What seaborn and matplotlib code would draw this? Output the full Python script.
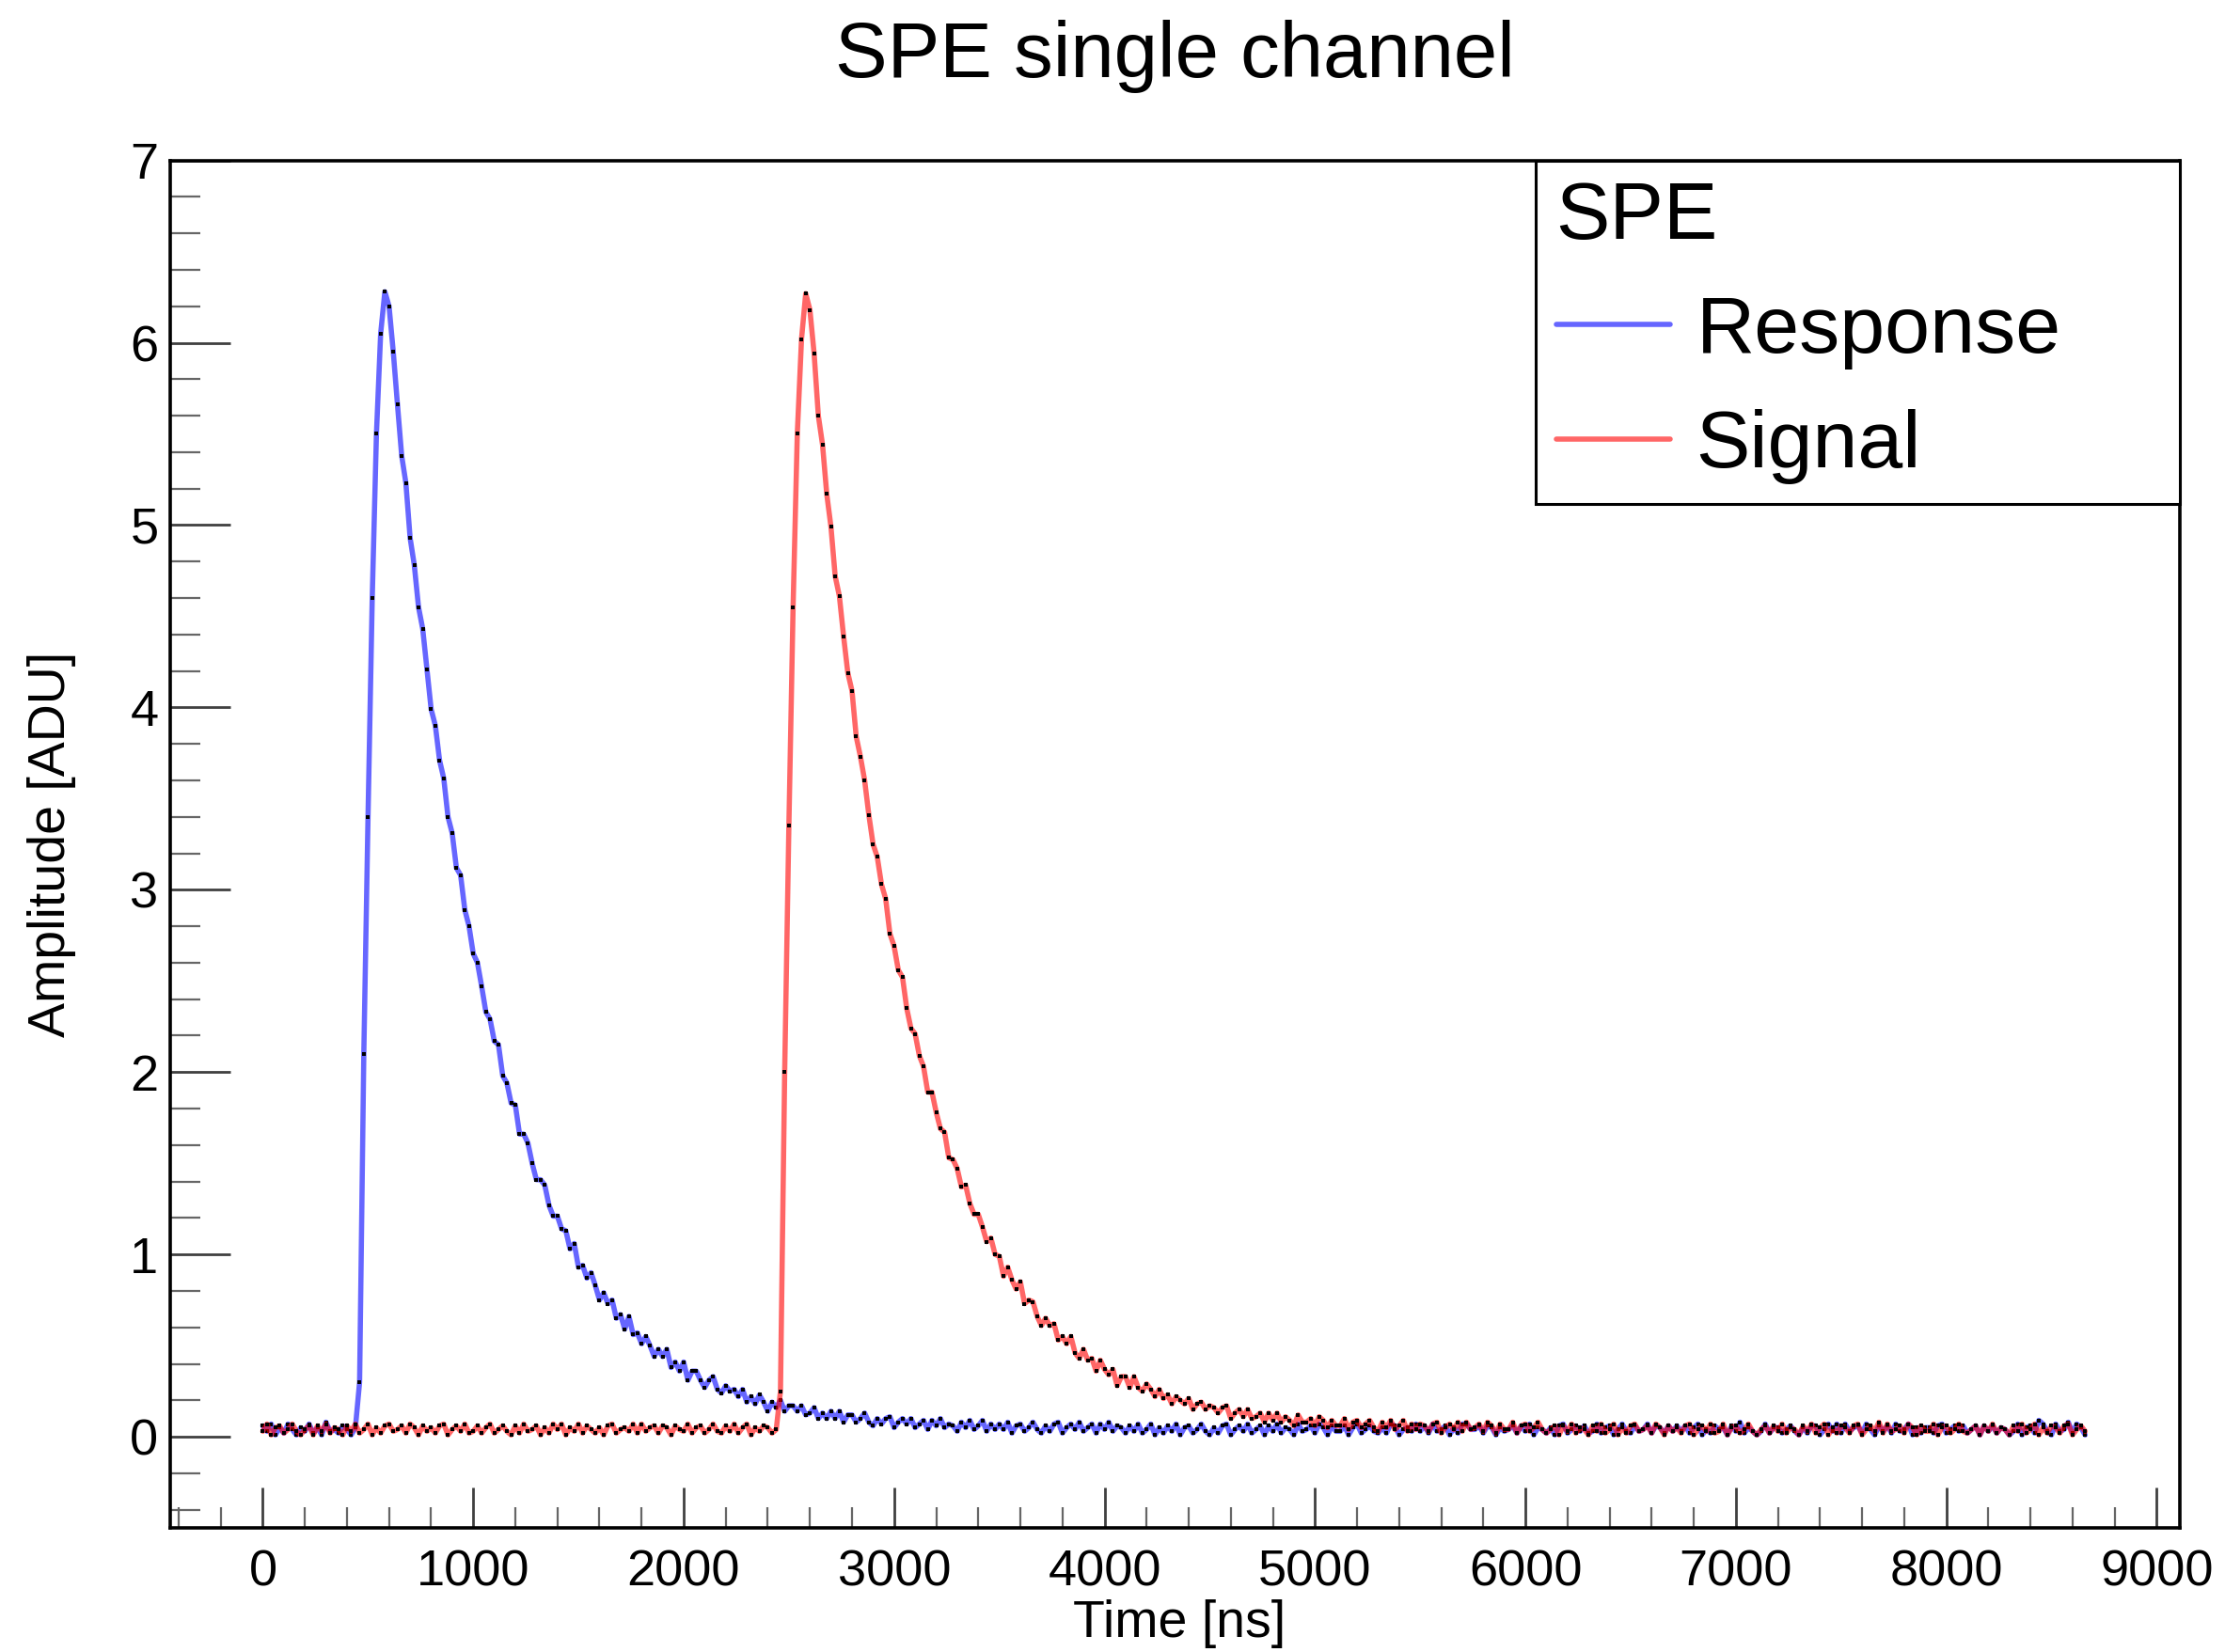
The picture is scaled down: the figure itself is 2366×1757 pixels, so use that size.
import numpy as np
import pandas as pd
import matplotlib
matplotlib.use("Agg")
import matplotlib.pyplot as plt
from matplotlib.lines import Line2D
from matplotlib.ticker import MultipleLocator
import seaborn as sns

# ---------------- data ----------------
SAMPLE_NS = 20  # sampling step of both waveforms

response_baseline = [0.06, 0.03, 0.07, 0.01, 0.05, 0.02, 0.07, 0.04, 0.01, 0.05,
                     0.03, 0.07, 0.02, 0.05, 0.01, 0.08, 0.03, 0.04, 0.02, 0.06,
                     0.04, 0.01, 0.05]
response_rise = [0.30, 2.10, 3.40, 4.60, 5.50, 6.05, 6.28, 6.20, 5.95]
response_decay = [5.66, 5.38, 5.23, 4.93, 4.78, 4.55, 4.43, 4.21, 3.99, 3.90,
                  3.71, 3.61, 3.40, 3.31, 3.12, 3.08, 2.89, 2.80, 2.65, 2.60,
                  2.47, 2.33, 2.29, 2.17, 2.15, 1.98, 1.94, 1.83, 1.82, 1.66,
                  1.66, 1.61, 1.50, 1.41, 1.41, 1.38, 1.27, 1.21, 1.21, 1.14,
                  1.13, 1.03, 1.06, 0.93, 0.94, 0.87, 0.90, 0.83, 0.75, 0.79,
                  0.73, 0.75, 0.65, 0.67, 0.59, 0.66, 0.56, 0.57, 0.51, 0.55,
                  0.50, 0.44, 0.48, 0.44, 0.48, 0.38, 0.41, 0.36, 0.41, 0.31,
                  0.36, 0.36, 0.31, 0.27, 0.31, 0.33, 0.26, 0.24, 0.28, 0.25,
                  0.26, 0.22, 0.26, 0.19, 0.22, 0.18, 0.23, 0.19, 0.14, 0.19,
                  0.16, 0.20, 0.14, 0.17]
response_tail = [0.17, 0.14, 0.17, 0.12, 0.13, 0.16, 0.10, 0.13, 0.10, 0.14,
                 0.10, 0.14, 0.08, 0.12, 0.12, 0.08, 0.10, 0.13, 0.08, 0.06,
                 0.10, 0.07, 0.10, 0.11, 0.05, 0.08, 0.10, 0.07, 0.10, 0.05,
                 0.07, 0.09, 0.04, 0.09, 0.06, 0.10, 0.05, 0.07, 0.06, 0.03,
                 0.08, 0.05, 0.09, 0.04, 0.06, 0.09, 0.03, 0.07, 0.04, 0.07,
                 0.04, 0.08, 0.02, 0.06, 0.07, 0.03, 0.05, 0.08, 0.04, 0.02,
                 0.06, 0.03, 0.07, 0.08, 0.02, 0.05, 0.07, 0.04, 0.08, 0.03,
                 0.05, 0.07, 0.02, 0.07, 0.04, 0.08, 0.03, 0.06, 0.05, 0.02,
                 0.06, 0.03, 0.07, 0.02, 0.04, 0.07, 0.01, 0.05, 0.02, 0.06,
                 0.03, 0.07, 0.01, 0.05, 0.06, 0.02, 0.04, 0.07, 0.03, 0.01,
                 0.05, 0.02, 0.06, 0.07, 0.01, 0.04, 0.06, 0.03, 0.07, 0.02,
                 0.04, 0.06, 0.01, 0.06, 0.03, 0.07, 0.02, 0.05, 0.04, 0.01,
                 0.07, 0.03, 0.04, 0.06, 0.02, 0.07, 0.05, 0.01, 0.06, 0.03,
                 0.03, 0.06, 0.01, 0.05, 0.07, 0.02, 0.04, 0.06, 0.03, 0.02,
                 0.05, 0.02, 0.07, 0.06, 0.01, 0.04, 0.05, 0.03, 0.07, 0.03,
                 0.06, 0.02, 0.07, 0.03, 0.04, 0.06, 0.01, 0.05, 0.02, 0.07,
                 0.07, 0.04, 0.04, 0.06, 0.02, 0.06, 0.05, 0.01, 0.05, 0.03,
                 0.04, 0.06, 0.02, 0.06, 0.03, 0.07, 0.01, 0.05, 0.04, 0.02,
                 0.05, 0.01, 0.06, 0.07, 0.02, 0.04, 0.06, 0.03, 0.06, 0.02,
                 0.03, 0.07, 0.02, 0.05, 0.06, 0.01, 0.04, 0.07, 0.03, 0.02,
                 0.06, 0.03, 0.04, 0.07, 0.02, 0.06, 0.05, 0.02, 0.06, 0.03,
                 0.06, 0.03, 0.06, 0.02, 0.05, 0.07, 0.01, 0.04, 0.02, 0.06,
                 0.04, 0.05, 0.01, 0.06, 0.03, 0.08, 0.02, 0.05, 0.03, 0.01,
                 0.03, 0.07, 0.02, 0.05, 0.05, 0.02, 0.04, 0.06, 0.03, 0.01,
                 0.05, 0.02, 0.06, 0.06, 0.01, 0.04, 0.07, 0.03, 0.07, 0.02,
                 0.07, 0.03, 0.05, 0.06, 0.02, 0.07, 0.04, 0.01, 0.06, 0.03,
                 0.06, 0.02, 0.07, 0.03, 0.04, 0.07, 0.01, 0.05, 0.02, 0.05,
                 0.05, 0.02, 0.06, 0.07, 0.02, 0.04, 0.06, 0.03, 0.06, 0.02,
                 0.04, 0.06, 0.01, 0.06, 0.03, 0.06, 0.02, 0.05, 0.04, 0.01,
                 0.03, 0.07, 0.01, 0.05, 0.06, 0.02, 0.09, 0.07, 0.03, 0.01,
                 0.07, 0.03, 0.04, 0.08, 0.02, 0.07, 0.05, 0.01]

signal_baseline = [0.03, 0.07, 0.01, 0.05, 0.06, 0.02, 0.04, 0.07, 0.03, 0.01,
                   0.04, 0.06, 0.01, 0.06, 0.03, 0.07, 0.02, 0.05, 0.04, 0.01,
                   0.06, 0.03, 0.07, 0.02, 0.04, 0.07, 0.01, 0.05, 0.02, 0.06,
                   0.07, 0.03, 0.04, 0.06, 0.02, 0.07, 0.05, 0.01, 0.06, 0.03,
                   0.05, 0.02, 0.06, 0.07, 0.01, 0.04, 0.06, 0.03, 0.07, 0.02,
                   0.03, 0.06, 0.02, 0.05, 0.07, 0.02, 0.04, 0.06, 0.03, 0.01,
                   0.06, 0.02, 0.07, 0.03, 0.04, 0.06, 0.01, 0.05, 0.02, 0.07,
                   0.04, 0.07, 0.01, 0.05, 0.03, 0.07, 0.02, 0.06, 0.04, 0.02,
                   0.05, 0.01, 0.06, 0.07, 0.02, 0.04, 0.05, 0.03, 0.07, 0.02,
                   0.07, 0.03, 0.05, 0.06, 0.02, 0.06, 0.05, 0.01, 0.06, 0.04,
                   0.03, 0.07, 0.02, 0.05, 0.06, 0.02, 0.04, 0.07, 0.03, 0.02,
                   0.06, 0.03, 0.07, 0.02, 0.05, 0.07, 0.01, 0.05, 0.03, 0.06,
                   0.05, 0.02, 0.04]
signal_rise = [0.25, 2.00, 3.35, 4.55, 5.50, 6.02, 6.27, 6.18, 5.94]
signal_decay = [5.60, 5.44, 5.17, 4.99, 4.72, 4.61, 4.39, 4.19, 4.09, 3.84,
                3.73, 3.60, 3.41, 3.25, 3.18, 3.03, 2.95, 2.76, 2.69, 2.56,
                2.52, 2.35, 2.24, 2.21, 2.09, 2.03, 1.89, 1.89, 1.78, 1.69,
                1.67, 1.53, 1.52, 1.47, 1.37, 1.38, 1.28, 1.22, 1.22, 1.15,
                1.07, 1.09, 1.00, 0.99, 0.88, 0.93, 0.86, 0.81, 0.85, 0.73,
                0.75, 0.74, 0.66, 0.61, 0.65, 0.61, 0.62, 0.53, 0.55, 0.51,
                0.55, 0.46, 0.43, 0.48, 0.42, 0.43, 0.36, 0.42, 0.37, 0.34,
                0.37, 0.28, 0.33, 0.33, 0.27, 0.33, 0.27, 0.25, 0.29, 0.26,
                0.22, 0.26, 0.21, 0.23, 0.18, 0.22, 0.20, 0.18, 0.21, 0.15,
                0.18, 0.19, 0.15, 0.17]
signal_tail = [0.16, 0.13, 0.16, 0.17, 0.10, 0.13, 0.15, 0.11, 0.15, 0.10,
               0.11, 0.13, 0.08, 0.13, 0.09, 0.13, 0.08, 0.11, 0.09, 0.06,
               0.12, 0.08, 0.08, 0.10, 0.06, 0.11, 0.09, 0.05, 0.09, 0.06,
               0.06, 0.10, 0.04, 0.08, 0.09, 0.05, 0.07, 0.09, 0.05, 0.03,
               0.08, 0.05, 0.09, 0.04, 0.06, 0.09, 0.03, 0.07, 0.04, 0.07,
               0.06, 0.03, 0.07, 0.08, 0.02, 0.05, 0.07, 0.04, 0.08, 0.03,
               0.08, 0.04, 0.05, 0.07, 0.03, 0.08, 0.06, 0.02, 0.07, 0.04,
               0.04, 0.08, 0.02, 0.06, 0.07, 0.03, 0.05, 0.08, 0.04, 0.02,
               0.04, 0.06, 0.01, 0.06, 0.03, 0.07, 0.02, 0.05, 0.04, 0.01,
               0.06, 0.03, 0.07, 0.02, 0.04, 0.07, 0.01, 0.05, 0.02, 0.06,
               0.07, 0.03, 0.04, 0.06, 0.02, 0.07, 0.05, 0.01, 0.06, 0.03,
               0.05, 0.02, 0.06, 0.07, 0.01, 0.04, 0.06, 0.03, 0.07, 0.02,
               0.03, 0.07, 0.01, 0.05, 0.06, 0.02, 0.04, 0.07, 0.03, 0.01,
               0.04, 0.06, 0.02, 0.06, 0.03, 0.07, 0.02, 0.05, 0.04, 0.01,
               0.06, 0.03, 0.07, 0.02, 0.05, 0.07, 0.01, 0.05, 0.02, 0.06,
               0.05, 0.02, 0.06, 0.07, 0.01, 0.04, 0.06, 0.03, 0.08, 0.02,
               0.07, 0.03, 0.04, 0.06, 0.02, 0.07, 0.05, 0.01, 0.06, 0.03,
               0.03, 0.07, 0.01, 0.05, 0.06, 0.02, 0.04, 0.07, 0.03, 0.02,
               0.04, 0.06, 0.01, 0.06, 0.03, 0.07, 0.02, 0.05, 0.04, 0.01,
               0.06, 0.03, 0.07, 0.02, 0.04, 0.07, 0.01, 0.05, 0.02, 0.06,
               0.05, 0.02, 0.06, 0.07, 0.01, 0.04, 0.06, 0.03]

response_adu = response_baseline + response_rise + response_decay + response_tail
signal_adu = signal_baseline + signal_rise + signal_decay + signal_tail

series_names = ["Response", "Signal"]
series_values = [response_adu, signal_adu]
series_colors = {"Response": "#0000ff", "Signal": "#ff0000"}
x_tick_values = [0, 1000, 2000, 3000, 4000, 5000, 6000, 7000, 8000, 9000]
y_tick_values = [0, 1, 2, 3, 4, 5, 6, 7]

frames = []
for name, vals in zip(series_names, series_values):
    frames.append(pd.DataFrame({
        "Time [ns]": np.arange(len(vals)) * SAMPLE_NS,
        "Amplitude [ADU]": vals,
        "series": name,
    }))
df = pd.concat(frames, ignore_index=True)

# ---------------- style ----------------
sns.set_style("white")
plt.rcParams["font.family"] = ["Liberation Sans", "DejaVu Sans"]
plt.rcParams["text.color"] = "black"
plt.rcParams["axes.labelcolor"] = "black"
plt.rcParams["xtick.color"] = "black"
plt.rcParams["ytick.color"] = "black"

fig = plt.figure(figsize=(23.66, 17.57), dpi=100)
ax = fig.add_axes([0.0765, 0.0751, 0.9032, 0.8278])

z = 2.0
for name in series_names:
    sub = df[df["series"] == name]
    sns.lineplot(data=sub, x="Time [ns]", y="Amplitude [ADU]",
                 color=series_colors[name], alpha=0.6, linewidth=4.0,
                 estimator=None, sort=False, legend=False, ax=ax, zorder=z)
    sns.scatterplot(data=sub, x="Time [ns]", y="Amplitude [ADU]",
                    color="black", marker="s", s=8, linewidth=0,
                    legend=False, ax=ax, zorder=z + 0.1)
    z += 0.2

ax.set_xlim(-440, 9110)
ax.set_ylim(-0.5, 7)
ax.set_xticks(x_tick_values)
ax.set_yticks(y_tick_values)
ax.xaxis.set_minor_locator(MultipleLocator(200))
ax.yaxis.set_minor_locator(MultipleLocator(0.2))

for side in ["top", "bottom", "left", "right"]:
    ax.spines[side].set_visible(True)
    ax.spines[side].set_color("black")
    ax.spines[side].set_linewidth(2.6)

ax.tick_params(axis="both", which="both", direction="in",
               top=False, right=False, bottom=True, left=True)
ax.tick_params(axis="x", which="major", length=31, width=2.0, color="0.25",
               pad=16.5, labelsize=39, labelcolor="black")
ax.tick_params(axis="x", which="minor", length=15.5, width=1.6, color="0.4")
ax.tick_params(axis="y", which="major", length=46, width=2.0, color="0.25",
               pad=9, labelsize=39, labelcolor="black")
ax.tick_params(axis="y", which="minor", length=23, width=1.6, color="0.4")

ax.set_xlabel("Time [ns]", fontsize=40, color="black")
ax.xaxis.set_label_coords(0.502, -0.0523)
ax.set_ylabel("Amplitude [ADU]", fontsize=40, color="black")
ax.yaxis.set_label_coords(-0.047, 0.5)

fig.text(0.5281, 0.9533, "SPE single channel", ha="center", va="baseline",
         fontsize=60, color="black")

handles = [Line2D([], [], color=series_colors[n], alpha=0.6, linewidth=4.0)
           for n in series_names]
leg = ax.legend(handles, series_names, title="SPE", loc="upper left",
                bbox_to_anchor=(0.6795, 0.7508, 0.3205, 0.2492), mode="expand",
                borderaxespad=0, fontsize=62, title_fontsize=62,
                alignment="left", frameon=True, fancybox=False,
                edgecolor="black", framealpha=1, handlelength=1.41,
                handletextpad=0.32, borderpad=0.25, labelspacing=0.48)
leg.get_frame().set_linewidth(2.2)
for t in leg.get_texts():
    t.set_color("black")
leg.get_title().set_color("black")

fig.savefig("out.png", dpi=100)
